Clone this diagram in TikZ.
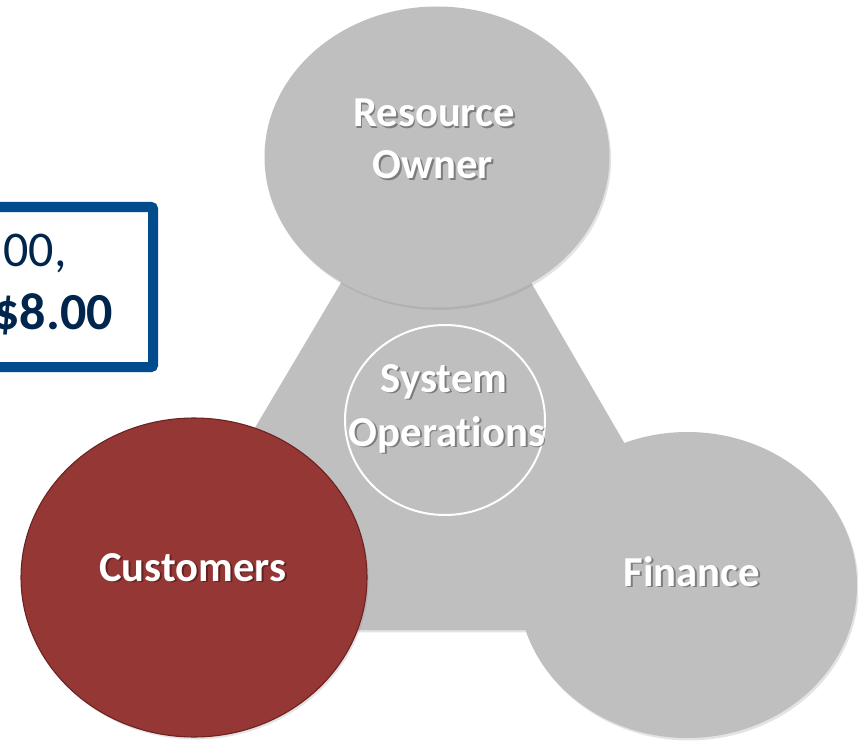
\documentclass[tikz,border=0pt]{standalone}
\usepackage{fontspec}
\setmainfont{Carlito}[Ligatures=NoCommon]
\usetikzlibrary{shapes.geometric,shadows}
\definecolor{grayfill}{HTML}{BFBFBF}
\definecolor{redfill}{HTML}{953735}
\definecolor{redline}{HTML}{6B2220}
\definecolor{boxblue}{HTML}{004C8C}
\definecolor{navytext}{HTML}{00264D}
\newcommand{\shlabel}[4]{%
  \node[lblsh] (#1s) at (#2+1.8,#3+1.8) {#4};
  \node[lbl] (#1) at (#2,#3) {#4};}
\begin{document}
\begin{tikzpicture}[x=0.75pt,y=-0.75pt,
  bubble/.style={ellipse, inner sep=0pt, fill=grayfill,
    drop shadow={shadow xshift=1.2pt, shadow yshift=-1.8pt, opacity=0.22}},
  lbl/.style={font=\fontsize{32}{32}\selectfont\bfseries, text=white, inner sep=0pt, anchor=base},
  lblsh/.style={font=\fontsize{32}{32}\selectfont\bfseries, text=black, text opacity=0.35, inner sep=0pt, anchor=base},
  boxtext/.style={font=\fontsize{37.5}{37.5}\selectfont, text=navytext, inner sep=0pt, anchor=base east}]
\useasboundingbox (0,0) rectangle (858,742);
\fill[white] (0,0) rectangle (858,742);
% triangle
\fill[grayfill, drop shadow={shadow xshift=1.2pt, shadow yshift=-1.8pt, opacity=0.22}]
  (437,121) -- (135,630) -- (733,630) -- cycle;
% system operations
\node[ellipse, draw=white, line width=1.5pt, inner sep=0pt,
  minimum width=150pt, minimum height=142.5pt] (sys) at (445,420) {};
% resource owner
\node[bubble, minimum width=258.75pt, minimum height=225.75pt] (ro) at (437,157) {};
% customers
\node[bubble, fill=redfill, draw=redline, line width=0.8pt,
  minimum width=259.5pt, minimum height=239.25pt] (cu) at (194,577.5) {};
% finance
\node[bubble, minimum width=254.25pt, minimum height=229.5pt] (fi) at (687.5,585) {};
% labels
\shlabel{rol1}{434}{127}{Resource}
\shlabel{rol2}{433}{179}{Owner}
\shlabel{syl1}{444}{392}{System}
\shlabel{syl2}{447}{446}{Operations}
\shlabel{cul}{193}{581}{Customers}
\shlabel{fil}{692}{586}{Finance}
% blue box
\draw[boxblue, line width=7.5pt, fill=white, rounded corners=1.5pt]
  (-30,207) rectangle (153,367);
\node[boxtext] (bt1) at (67,267) {00,};
\node[boxtext, font=\fontsize{39}{39}\selectfont\bfseries] (bt2) at (113,329) {\$8.00};
\end{tikzpicture}
\end{document}
